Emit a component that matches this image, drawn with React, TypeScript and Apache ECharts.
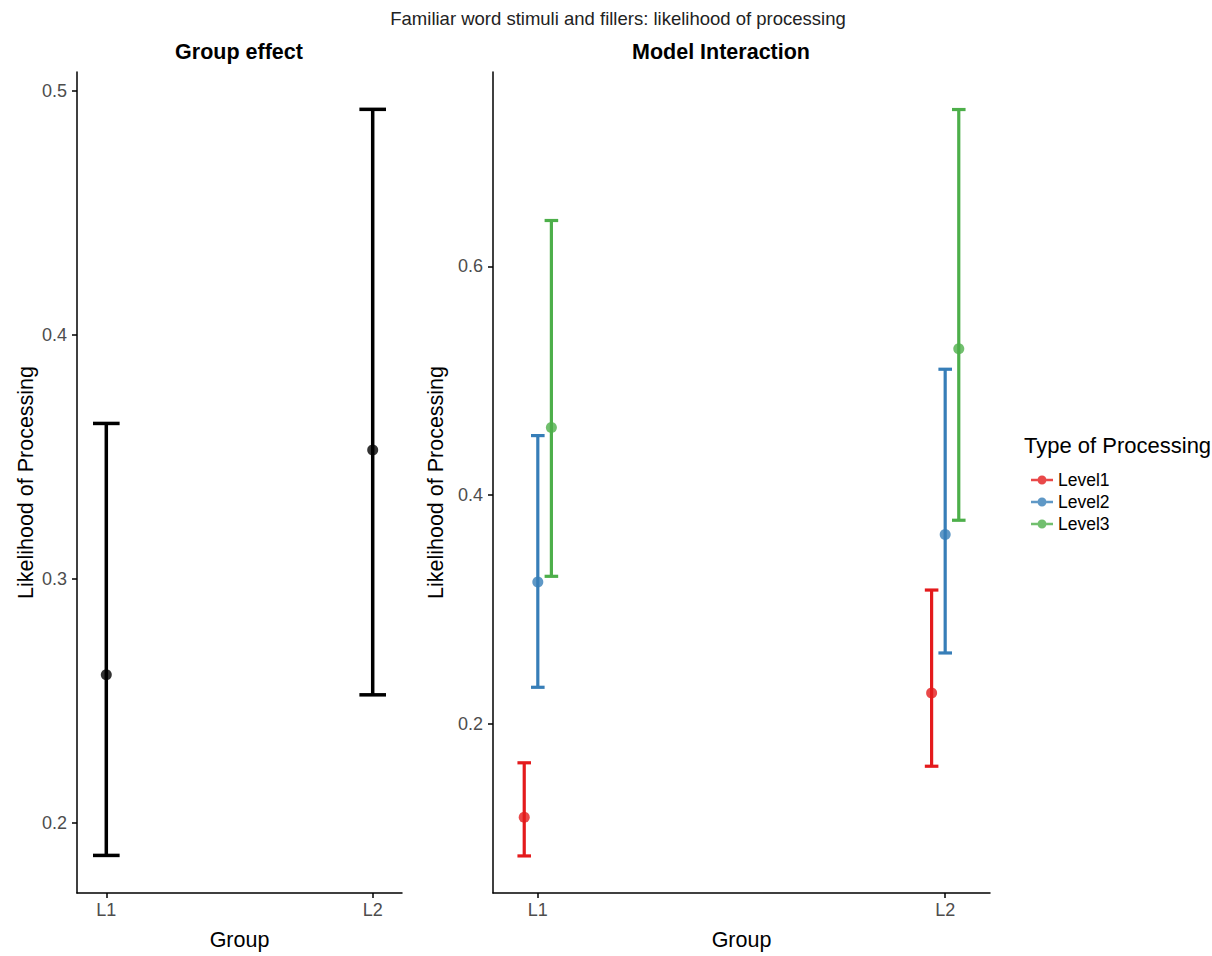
import React, { useEffect, useRef } from "react";
import * as echarts from "echarts";

const GROUPS = ["L1", "L2"];
const GROUP_MEAN = [0.2607, 0.3528];
const GROUP_LOWER = [0.1867, 0.2525];
const GROUP_UPPER = [0.3637, 0.4924];

const LEVELS = ["Level1", "Level2", "Level3"];
const LEVEL_MEAN = [
  [0.1185, 0.227],
  [0.324, 0.3655],
  [0.459, 0.528],
];
const LEVEL_LOWER = [
  [0.0846, 0.163],
  [0.232, 0.262],
  [0.329, 0.378],
];
const LEVEL_UPPER = [
  [0.166, 0.317],
  [0.452, 0.51],
  [0.64, 0.737],
];
const LEVEL_COLORS = ["#E41A1C", "#377EB8", "#4DAF4A"];

const LEFT_TICKS = [0.2, 0.3, 0.4, 0.5];
const RIGHT_TICKS = [0.2, 0.4, 0.6];

const FONT = "'Liberation Sans', Arial, sans-serif";
const DODGE = 0.1;

function errorBarSeries(
  name: string,
  gridIdx: number,
  data: number[][],
  color: string,
  capWidth: number,
  lineWidth: number
) {
  return {
    name,
    type: "custom",
    xAxisIndex: gridIdx,
    yAxisIndex: gridIdx,
    data,
    z: 2,
    renderItem: (params: any, api: any) => {
      const x = api.value(0);
      const lo = api.coord([x, api.value(1)]);
      const hi = api.coord([x, api.value(2)]);
      const half = api.size([capWidth, 0])[0] / 2;
      const style = { stroke: color, lineWidth };
      return {
        type: "group",
        children: [
          { type: "line", shape: { x1: lo[0], y1: lo[1], x2: hi[0], y2: hi[1] }, style },
          { type: "line", shape: { x1: hi[0] - half, y1: hi[1], x2: hi[0] + half, y2: hi[1] }, style },
          { type: "line", shape: { x1: lo[0] - half, y1: lo[1], x2: lo[0] + half, y2: lo[1] }, style },
        ],
      };
    },
  };
}

function xAxisCfg(gridIndex: number) {
  return {
    type: "value",
    gridIndex,
    min: 0.89,
    max: 2.11,
    name: "Group",
    nameLocation: "middle",
    nameGap: 36,
    nameTextStyle: { fontSize: 21.5, color: "#000", fontFamily: FONT },
    splitLine: { show: false },
    axisLine: { lineStyle: { color: "#000", width: 1.5 } },
    axisTick: { customValues: [1, 2], length: 5, lineStyle: { color: "#000", width: 1.5 } },
    axisLabel: {
      customValues: [1, 2],
      formatter: (v: number) => GROUPS[Math.round(v) - 1] ?? "",
      fontSize: 18,
      color: "#4D4D4D",
      fontFamily: FONT,
      margin: 8,
    },
  };
}

function yAxisCfg(gridIndex: number, min: number, max: number, ticks: number[], nameGap: number) {
  return {
    type: "value",
    gridIndex,
    min,
    max,
    name: "Likelihood of Processing",
    nameLocation: "middle",
    nameRotate: 90,
    nameGap,
    nameTextStyle: { fontSize: 21.5, color: "#000", fontFamily: FONT },
    splitLine: { show: false },
    axisLine: { show: true, lineStyle: { color: "#000", width: 1.5 } },
    axisTick: { show: true, customValues: ticks, length: 5, lineStyle: { color: "#000", width: 1.5 } },
    axisLabel: {
      customValues: ticks,
      formatter: (v: number) => v.toFixed(1),
      fontSize: 18,
      color: "#4D4D4D",
      fontFamily: FONT,
      margin: 10,
    },
  };
}

const LEGEND_ICON =
  "path://M0,5 L6.6,5 L6.6,7.5 L0,7.5 Z M15.4,5 L22,5 L22,7.5 L15.4,7.5 Z M6.5,6.25 A4.5,4.5 0 1,1 15.5,6.25 A4.5,4.5 0 1,1 6.5,6.25 Z";

export default function App() {
  const ref = useRef<HTMLDivElement>(null);

  useEffect(() => {
    if (!ref.current) return;
    const chart = echarts.init(ref.current, undefined, { renderer: "svg" });

    const series: any[] = [];
    // Left panel
    series.push(
      errorBarSeries(
        "Group",
        0,
        GROUPS.map((_, i) => [i + 1, GROUP_LOWER[i], GROUP_UPPER[i]]),
        "#000",
        0.1,
        3.5
      )
    );
    series.push({
      name: "GroupMean",
      type: "scatter",
      xAxisIndex: 0,
      yAxisIndex: 0,
      symbolSize: 11,
      itemStyle: { color: "#000" },
      z: 3,
      data: GROUPS.map((_, i) => [i + 1, GROUP_MEAN[i]]),
    });
    // Right panel
    LEVELS.forEach((lvl, k) => {
      const off = (k - 1) * (DODGE / LEVELS.length);
      series.push(
        errorBarSeries(
          lvl + "_err",
          1,
          GROUPS.map((_, i) => [i + 1 + off, LEVEL_LOWER[k][i], LEVEL_UPPER[k][i]]),
          LEVEL_COLORS[k],
          DODGE / LEVELS.length,
          3.2
        )
      );
      series.push({
        name: lvl,
        type: "scatter",
        xAxisIndex: 1,
        yAxisIndex: 1,
        symbolSize: 11,
        itemStyle: { color: LEVEL_COLORS[k] },
        z: 3,
        data: GROUPS.map((_, i) => [i + 1 + off, LEVEL_MEAN[k][i]]),
      });
    });

    chart.setOption({
      animation: false,
      backgroundColor: "#fff",
      textStyle: { fontFamily: FONT },
      grid: [
        { left: 77, top: 72, width: 325, height: 825 },
        { left: 493, top: 72, width: 497, height: 825 },
      ],
      xAxis: [xAxisCfg(0), xAxisCfg(1)],
      yAxis: [
        yAxisCfg(0, 0.1713, 0.5077, LEFT_TICKS, 40),
        yAxisCfg(1, 0.0522, 0.7698, RIGHT_TICKS, 46),
      ],
      legend: {
        orient: "vertical",
        left: 1026,
        top: 466,
        itemGap: 4,
        itemWidth: 22,
        itemHeight: 12,
        icon: LEGEND_ICON,
        textStyle: { fontSize: 17.5, color: "#000", fontFamily: FONT },
        data: LEVELS.map((l, k) => ({ name: l, itemStyle: { color: LEVEL_COLORS[k] } })),
        selectedMode: false,
      },
      graphic: [
        {
          type: "text",
          x: 618,
          y: 18,
          style: {
            text: "Familiar word stimuli and fillers: likelihood of processing",
            fontSize: 18.5,
            fill: "#222",
            fontFamily: FONT,
            align: "center",
            verticalAlign: "middle",
          },
        },
        {
          type: "text",
          x: 239,
          y: 52,
          style: {
            text: "Group effect",
            fontSize: 21.5,
            fontWeight: "bold",
            fill: "#000",
            fontFamily: FONT,
            align: "center",
            verticalAlign: "middle",
          },
        },
        {
          type: "text",
          x: 721,
          y: 52,
          style: {
            text: "Model Interaction",
            fontSize: 21.5,
            fontWeight: "bold",
            fill: "#000",
            fontFamily: FONT,
            align: "center",
            verticalAlign: "middle",
          },
        },
        {
          type: "text",
          x: 1024,
          y: 445,
          style: {
            text: "Type of Processing",
            fontSize: 22,
            fill: "#000",
            fontFamily: FONT,
            align: "left",
            verticalAlign: "middle",
          },
        },
      ],
      series,
    });

    return () => chart.dispose();
  }, []);

  return (
    <div
      ref={ref}
      style={{ position: "absolute", left: 0, top: 0, width: 1212, height: 956 }}
    />
  );
}
